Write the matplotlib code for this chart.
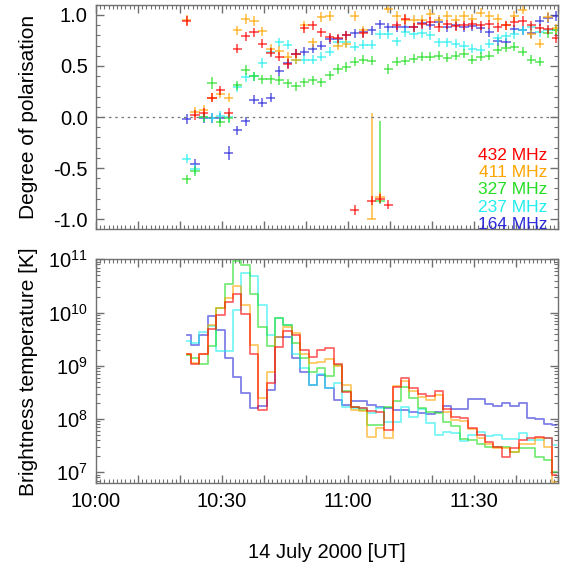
import matplotlib
matplotlib.use('Agg')
import matplotlib.pyplot as plt
from matplotlib.ticker import MultipleLocator, LogLocator, NullFormatter, FuncFormatter, FormatStrFormatter
import numpy as np

plt.rcParams['font.family'] = ['Liberation Sans', 'DejaVu Sans']
plt.rcParams['axes.unicode_minus'] = False

# time of each sample, minutes after 10:00 UT (2 min cadence)
times = [21.6, 23.6, 25.6, 27.6, 29.6, 31.6, 33.6, 35.6, 37.6, 39.6,
         41.6, 43.6, 45.6, 47.6, 49.6, 51.6, 53.6, 55.6, 57.6, 59.6,
         61.6, 63.6, 65.6, 67.6, 69.6, 71.6, 73.6, 75.6, 77.6, 79.6,
         81.6, 83.6, 85.6, 87.6, 89.6, 91.6, 93.6, 95.6, 97.6, 99.6,
         101.6, 103.6, 105.6, 107.6, 109.6]

freqs = ['432 MHz', '411 MHz', '327 MHz', '237 MHz', '164 MHz']
colors = ['#ff0000', '#ffa500', '#22dd22', '#22eeee', '#2a2ad8']

# degree of circular polarisation
pol_432 = [0.94, 0.02, 0.04, 0.19, 0.26, 0.04, 0.67, 0.79, 0.83, 0.72, 0.63, 0.59, 0.52, 0.62, 0.87,
           0.90, 0.83, 0.78, 0.77, 0.80, -0.91, 0.82, -0.82, -0.80, -0.86, 0.90, 0.96, 0.88, 0.91, 0.93,
           0.88, 0.91, 0.89, 0.90, 0.91, 0.90, 0.91, 0.88, 0.90, 0.93, 0.94, 0.90, 0.87, 0.86, 0.77]
pol_411 = [0.95, 0.05, 0.07, 0.19, 0.23, 0.19, 0.85, 0.96, 0.94, 0.84, 0.67, 0.65, 0.59, 0.56, 0.90,
           0.73, 0.98, 0.99, 0.70, 0.72, 0.99, 0.85, -1.00, -0.78, 1.06, 0.99, 0.95, 0.95, 0.95, 1.01,
           0.95, 0.99, 0.95, 0.99, 0.96, 1.02, 0.99, 0.96, 0.90, 0.99, 1.05, 0.81, 0.72, 0.98, 0.87]
pol_327 = [-0.61, -0.53, 0.00, 0.33, -0.05, -0.01, 0.31, 0.46, 0.40, 0.37, 0.37, 0.36, 0.33, 0.30, 0.34,
           0.36, 0.34, 0.41, 0.47, 0.49, 0.54, 0.56, 0.55, -0.82, 0.47, 0.54, 0.55, 0.57, 0.59, 0.59,
           0.60, 0.58, 0.60, 0.62, 0.56, 0.59, 0.60, 0.66, 0.68, 0.69, 0.64, 0.56, 0.54, 0.82, 0.85]
pol_237 = [-0.41, -0.51, 0.00, -0.01, 0.01, 0.00, 0.29, 0.39, 0.40, 0.53, 0.64, 0.73, 0.71, 0.56, 0.56,
           0.56, 0.59, 0.64, 0.73, 0.73, 0.69, 0.71, 0.71, 0.81, 0.81, 0.74, 0.83, 0.81, 0.82, 0.80,
           0.73, 0.73, 0.72, 0.70, 0.67, 0.66, 0.72, 0.77, 0.79, 0.81, 0.85, 0.88, 0.83, 0.85, 0.85]
pol_164 = [-0.02, -0.46, -0.01, -0.01, -0.01, -0.35, -0.13, -0.04, 0.17, 0.14, 0.19, 0.45, 0.53, 0.62, 0.64,
           0.67, 0.70, 0.76, 0.76, 0.80, 0.82, 0.83, 0.85, 0.91, 0.88, 0.88, 0.88, 0.88, 0.92, 0.90,
           0.93, 0.88, 0.90, 0.88, 0.89, 0.87, 0.83, 0.74, 0.73, 0.86, 0.85, 0.82, 0.94, 0.97, 0.99]

# typical error on polarisation, and the few points with large bars: (series, index, lower, upper)
pol_err = 0.045
big_errs = [(1, 22, 0.0, 1.04), (2, 23, 0.03, 0.78), (4, 5, 0.07, 0.07), (2, 3, 0.06, 0.06)]

# log10 of brightness temperature [K]
logtb_432 = [9.23, 9.04, 9.22, 9.69, 9.95, 10.20, 10.34, 9.97, 9.22, 8.17, 8.68, 9.36, 9.65, 9.58, 9.30,
             9.17, 9.30, 9.34, 9.04, 8.51, 8.23, 8.20, 8.16, 8.14, 7.80, 8.60, 8.78, 8.58, 8.47, 8.44,
             8.53, 8.19, 8.03, 8.01, 7.83, 7.70, 7.57, 7.48, 7.29, 7.45, 7.61, 7.65, 7.67, 7.65, 6.95]
logtb_411 = [9.23, 9.06, 9.23, 9.76, 10.08, 10.28, 10.49, 10.15, 9.39, 8.39, 8.89, 9.55, 9.73, 9.62, 9.22,
             9.06, 9.08, 9.12, 8.99, 8.64, 8.17, 8.16, 7.67, 7.83, 7.65, 8.62, 8.71, 8.53, 8.42, 8.35,
             8.45, 8.14, 7.98, 7.97, 7.81, 7.65, 7.54, 7.46, 7.46, 7.39, 7.54, 7.54, 7.64, 7.48, 6.82]
logtb_327 = [9.20, 9.15, 9.03, 9.37, 10.08, 10.54, 10.97, 10.89, 10.34, 9.72, 9.38, 9.89, 9.76, 9.43, 9.14,
             8.89, 8.95, 8.80, 9.01, 8.53, 8.23, 8.17, 7.89, 7.89, 8.23, 8.34, 8.61, 8.39, 8.21, 8.14,
             8.12, 7.95, 7.86, 7.63, 7.60, 7.54, 7.48, 7.47, 7.47, 7.39, 7.45, 7.45, 7.29, 7.23, 7.01]
logtb_237 = [9.46, 9.43, 9.63, 9.75, 9.27, 9.27, 10.04, 10.74, 10.69, 10.15, 9.58, 9.90, 9.76, 9.23, 8.95,
             8.64, 8.84, 8.59, 8.67, 8.23, 8.21, 8.21, 8.11, 8.20, 7.95, 7.95, 8.23, 8.04, 8.19, 7.92,
             7.70, 7.76, 7.74, 7.58, 7.70, 7.75, 7.68, 7.70, 7.63, 7.63, 7.73, 7.61, 7.61, 7.65, 7.51]
logtb_164 = [9.58, 9.39, 9.58, 9.94, 9.68, 9.14, 8.79, 8.48, 8.20, 8.25, 8.55, 9.55, 9.55, 9.14, 8.89,
             8.64, 8.83, 8.59, 8.36, 8.26, 8.34, 8.34, 8.26, 8.23, 8.21, 8.17, 8.17, 8.14, 8.12, 8.09,
             8.14, 8.25, 8.19, 8.19, 8.38, 8.38, 8.28, 8.25, 8.31, 8.24, 8.31, 8.01, 8.00, 7.90, 7.88]

pols = [pol_432, pol_411, pol_327, pol_237, pol_164]
logtbs = [logtb_432, logtb_411, logtb_327, logtb_237, logtb_164]

t = np.array(times)
axis_col = '#707070'

fig = plt.figure(figsize=(5.66, 5.76), dpi=100)
ax1 = fig.add_axes([0.1696, 0.6019, 0.8163, 0.3899])
ax2 = fig.add_axes([0.1696, 0.1609, 0.8163, 0.3889])

# top panel: polarisation
for i in range(len(pols) - 1, -1, -1):
    p = np.array(pols[i])
    lo = np.full(len(p), pol_err)
    hi = np.full(len(p), pol_err)
    for s, k, el, eh in big_errs:
        if s == i:
            lo[k] = el
            hi[k] = eh
    ax1.errorbar(t, p, xerr=1.1, yerr=[lo, hi], fmt='none', ecolor=colors[i],
                 elinewidth=1.4, capsize=0, alpha=0.6)
ax1.axhline(0, color='#777777', lw=0.9, ls=(0, (2, 3)))
ax1.set_xlim(0, 110)
ax1.set_ylim(-1.1, 1.1)
ax1.yaxis.set_major_locator(MultipleLocator(0.5))
ax1.yaxis.set_minor_locator(MultipleLocator(0.1))
ax1.yaxis.set_major_formatter(FormatStrFormatter('%.1f'))
ax1.set_xticklabels([])
ax1.set_ylabel('Degree of polarisation', fontsize=15)
ax1.yaxis.set_label_coords(-0.125, 0.5)

for i, name in enumerate(freqs):
    ax1.text(0.977, 0.33 - i * 0.077, name, color=colors[i], fontsize=12.5,
             ha='right', va='center', transform=ax1.transAxes)

# bottom panel: brightness temperature
for i in range(len(logtbs) - 1, -1, -1):
    ax2.step(t, 10 ** np.array(logtbs[i]), where='mid', color=colors[i], lw=1.3, alpha=0.6)
ax2.set_yscale('log')
ax2.set_xlim(0, 110)
ax2.set_ylim(6.2e6, 1e11)
ax2.yaxis.set_major_locator(LogLocator(base=10, numticks=10))
ax2.yaxis.set_minor_locator(LogLocator(base=10, subs=np.arange(2, 10), numticks=10))
ax2.yaxis.set_minor_formatter(NullFormatter())
ax2.set_ylabel('Brightness temperature [K]', fontsize=15)
ax2.yaxis.set_label_coords(-0.125, 0.5)


def hhmm(v, pos):
    m = int(round(v))
    if m % 30:
        return ''
    return '%d:%02d' % (10 + m // 60, m % 60)


ax2.xaxis.set_major_formatter(FuncFormatter(hhmm))
ax2.set_xlabel('14 July 2000 [UT]', fontsize=14.5, labelpad=23)

for ax in (ax1, ax2):
    ax.xaxis.set_major_locator(MultipleLocator(10))
    ax.xaxis.set_minor_locator(MultipleLocator(1))
    ax.tick_params(which='both', direction='in', top=True, right=True, color=axis_col,
                   labelsize=14.5, pad=6)
    ax.tick_params(which='major', length=6, width=1)
    ax.tick_params(which='minor', length=3, width=0.8)
    for sp in ax.spines.values():
        sp.set_color(axis_col)
        sp.set_linewidth(1.0)

fig.savefig('out.png', dpi=100)
